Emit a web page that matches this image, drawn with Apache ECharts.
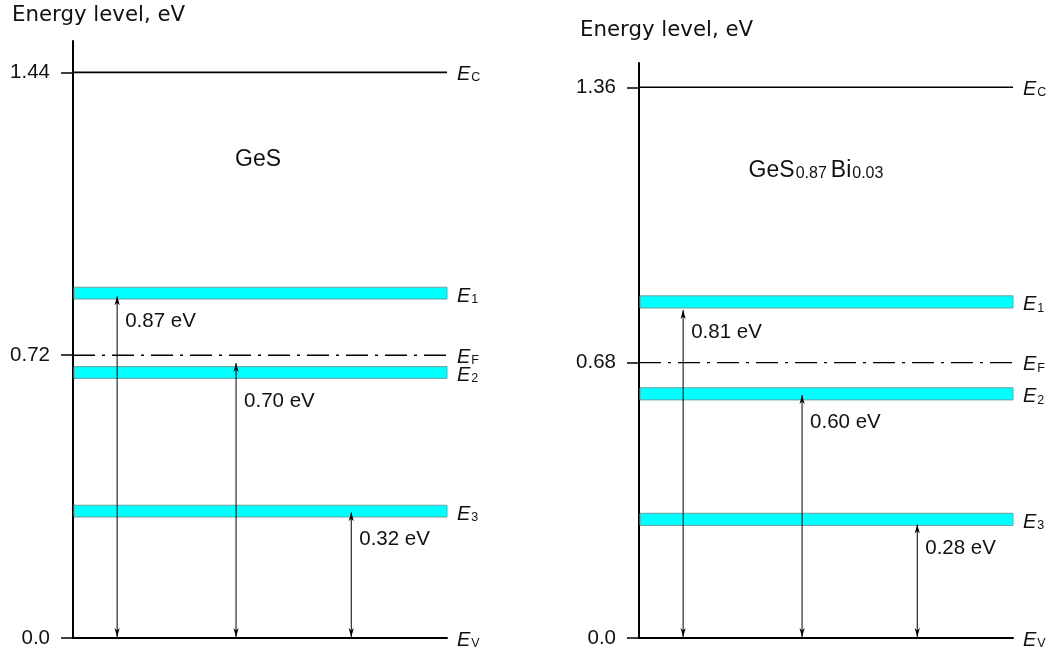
<!DOCTYPE html>
<html>
<head>
<meta charset="utf-8">
<script src="https://cdn.jsdelivr.net/npm/echarts@6/dist/echarts.min.js"></script>
<style>
  html, body { margin: 0; padding: 0; background: #ffffff; }
  #chart { width: 1047px; height: 653px; }
</style>
</head>
<body>
<div id="chart"></div>
<script>
// Band edges and Fermi level (eV above E_V): conduction band, Fermi level, valence band
const edgeNames = ['C', 'F', 'V'];
const edgeStyles = ['solid', 'dashdot', 'axis'];
const gesEdges = [1.44, 0.72, 0.0];
const gesBiEdges = [1.36, 0.68, 0.0];

// Impurity bands E1..E3: centre energies (eV)
const bandNames = ['1', '2', '3'];
const gesBands = [0.878, 0.676, 0.323];
const gesBiBands = [0.830, 0.603, 0.293];

// Activation energies from E_V, shown by the double arrows (eV)
const gesGaps = [0.87, 0.70, 0.32];
const gesBiGaps = [0.81, 0.60, 0.28];

// Tick values on the energy axes
const gesTicks = [0.0, 0.72, 1.44];
const gesBiTicks = [0.0, 0.68, 1.36];

const axisTitle = 'Energy level, eV';
const panelNames = [
  '{m|GeS}',
  '{m|GeS}{s|0.87}{m|Bi}{s|0.03}'
];

// Drawing constants
const BAND_HALF = 0.015;               // half thickness of an impurity band, eV
const ARROW_X = [0.118, 0.436, 0.744]; // arrow positions as fraction of panel width
const FONT = 'Liberation Sans, Arial, sans-serif';
const TITLE_FONT = 'DejaVu Sans, Verdana, sans-serif';
const INK = '#111111';

const chart = echarts.init(document.getElementById('chart'), null, { renderer: 'canvas' });

function levelLabel(x, y, sub) {
  return {
    type: 'text', x: x, y: y,
    style: {
      text: '{e|E}{s|' + sub + '}',
      verticalAlign: 'middle',
      rich: {
        e: { fontFamily: FONT, fontStyle: 'italic', fontSize: 20, lineHeight: 20, fill: INK, verticalAlign: 'bottom' },
        s: { fontFamily: FONT, fontSize: 12.5, lineHeight: 13, fill: INK, verticalAlign: 'bottom', padding: [0, 0, 0, 1] }
      }
    }
  };
}

function edgeRenderer(edges) {
  return function (params, api) {
    const i = params.dataIndex;
    const pL = api.coord([0, edges[i]]);
    const pR = api.coord([1, edges[i]]);
    const children = [];
    if (edgeStyles[i] !== 'axis') {
      children.push({
        type: 'line',
        shape: { x1: pL[0], y1: pL[1], x2: pR[0], y2: pR[1] },
        style: edgeStyles[i] === 'dashdot'
          ? { stroke: '#000', lineWidth: 1.4, lineDash: [22, 7, 3, 7] }
          : { stroke: '#000', lineWidth: 1.6 }
      });
    }
    children.push(levelLabel(pR[0] + 10, pL[1] + 2, edgeNames[i]));
    return { type: 'group', children: children };
  };
}

function bandRenderer(bands) {
  return function (params, api) {
    const i = params.dataIndex;
    const v = bands[i];
    const pL = api.coord([0, v + BAND_HALF]);
    const pR = api.coord([1, v - BAND_HALF]);
    return {
      type: 'group',
      children: [
        {
          type: 'rect',
          shape: { x: pL[0] + 1, y: pL[1], width: pR[0] - pL[0] - 1, height: pR[1] - pL[1] },
          style: { fill: '#00ffff', stroke: '#6e9e9e', lineWidth: 1 }
        },
        levelLabel(pR[0] + 10, (pL[1] + pR[1]) / 2 + 3, bandNames[i])
      ]
    };
  };
}

function arrowRenderer(gaps, bands) {
  return function (params, api) {
    const i = params.dataIndex;
    const x = ARROW_X[i];
    const p0 = api.coord([x, 0]);
    const p1 = api.coord([x, gaps[i]]);
    const bandBottom = api.coord([x, bands[i] - BAND_HALF])[1];
    const xs = p0[0];
    const yB = p0[1] - 1;
    const yT = p1[1];
    const head = (y, dir) => ({
      type: 'polygon',
      shape: { points: [[xs, y], [xs - 2.6, y + dir * 9], [xs, y + dir * 6.5], [xs + 2.6, y + dir * 9]] },
      style: { fill: '#000' }
    });
    return {
      type: 'group',
      children: [
        { type: 'line', shape: { x1: xs, y1: yB, x2: xs, y2: yT }, style: { stroke: '#000', lineWidth: 1 } },
        head(yT, 1),
        head(yB, -1),
        {
          type: 'text',
          x: xs + 8,
          y: Math.max(yT, bandBottom) + 12,
          style: { text: gaps[i].toFixed(2) + ' eV', fontFamily: FONT, fontSize: 20.5, fill: INK, verticalAlign: 'top' }
        }
      ]
    };
  };
}

function yAxisFor(gridIndex, ticks, max) {
  return {
    type: 'value', gridIndex: gridIndex, min: 0, max: max,
    axisLine: { show: true, lineStyle: { color: '#000', width: 2 } },
    axisTick: { show: true, customValues: ticks, length: 12, lineStyle: { color: '#000', width: 1.5 } },
    axisLabel: {
      show: true, customValues: ticks, margin: 23,
      fontFamily: FONT, fontSize: 20.5, color: INK,
      formatter: v => (v === 0 ? '0.0' : v.toFixed(2))
    },
    splitLine: { show: false }
  };
}

function xAxisFor(gridIndex) {
  return {
    type: 'value', gridIndex: gridIndex, min: 0, max: 1,
    axisLine: { show: true, onZero: false, lineStyle: { color: '#000', width: 2 } },
    axisTick: { show: false }, axisLabel: { show: false }, splitLine: { show: false }
  };
}

function panelSeries(idx, edges, bands, gaps) {
  return [
    {
      type: 'custom', xAxisIndex: idx, yAxisIndex: idx, clip: false, z: 2,
      renderItem: bandRenderer(bands),
      data: bands.map(v => [0, v])
    },
    {
      type: 'custom', xAxisIndex: idx, yAxisIndex: idx, clip: false, z: 3,
      renderItem: edgeRenderer(edges),
      data: edges.map(v => [0, v])
    },
    {
      type: 'custom', xAxisIndex: idx, yAxisIndex: idx, clip: false, z: 4,
      renderItem: arrowRenderer(gaps, bands),
      data: gaps.map((v, k) => [ARROW_X[k], v])
    }
  ];
}

chart.setOption({
  animation: false,
  backgroundColor: '#ffffff',
  grid: [
    { left: 73, right: 600, top: 41, bottom: 15 },
    { left: 639, right: 34, top: 63, bottom: 15 }
  ],
  xAxis: [xAxisFor(0), xAxisFor(1)],
  yAxis: [yAxisFor(0, gesTicks, 1.52), yAxisFor(1, gesBiTicks, 1.42)],
  graphic: [
    { type: 'text', x: 12, y: 5, style: { text: axisTitle, fontFamily: TITLE_FONT, fontSize: 21.3, fill: INK } },
    { type: 'text', x: 580, y: 20, style: { text: axisTitle, fontFamily: TITLE_FONT, fontSize: 21.3, fill: INK } },
    {
      type: 'text', x: 258, y: 160,
      style: {
        text: panelNames[0], align: 'center', verticalAlign: 'middle',
        rich: { m: { fontFamily: FONT, fontSize: 23, fill: INK } }
      }
    },
    {
      type: 'text', x: 818, y: 170,
      style: {
        text: panelNames[1], align: 'center', verticalAlign: 'middle',
        rich: {
          m: { fontFamily: FONT, fontSize: 23, lineHeight: 24, fill: INK, verticalAlign: 'bottom' },
          s: { fontFamily: FONT, fontSize: 16, lineHeight: 9, fill: INK, verticalAlign: 'bottom', padding: [0, 4, 0, 1] }
        }
      }
    }
  ],
  series: []
    .concat(panelSeries(0, gesEdges, gesBands, gesGaps))
    .concat(panelSeries(1, gesBiEdges, gesBiBands, gesBiGaps))
});
</script>
</body>
</html>
